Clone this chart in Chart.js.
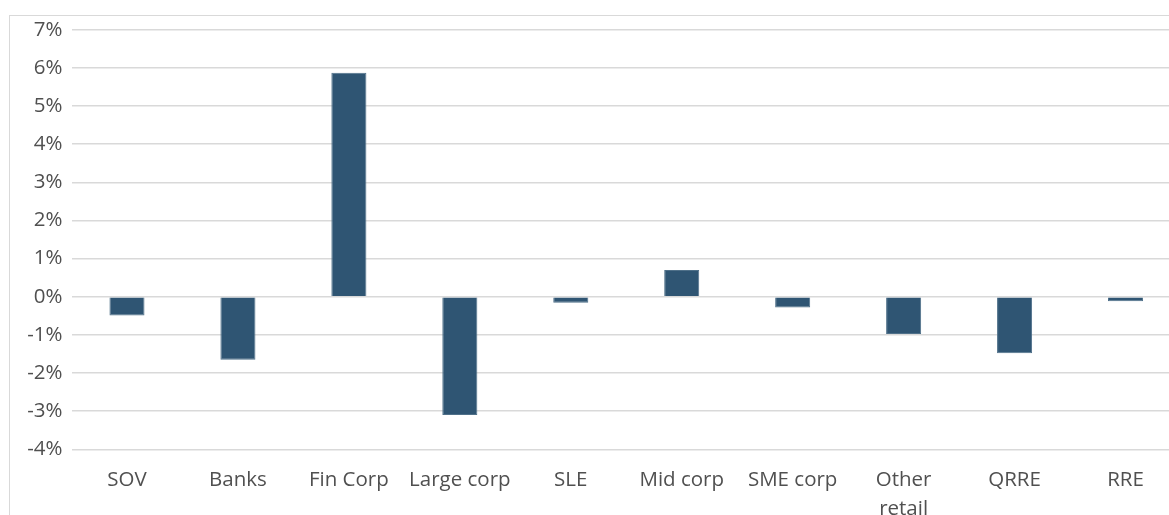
<!DOCTYPE html>
<html>
<head>
<meta charset="utf-8">
<script src="https://cdn.jsdelivr.net/npm/chart.js@4/dist/chart.umd.min.js"></script>
<style>
  html, body { margin: 0; padding: 0; background: #fff; overflow: hidden; }
  #frame {
    position: absolute; left: 9px; top: 15px; width: 1300px; height: 600px;
    border-left: 1px solid #d9d9d9; border-top: 1px solid #d9d9d9;
  }
  #wrap { position: absolute; left: 0; top: 0; width: 1181px; height: 530px; }
</style>
</head>
<body>
<div id="frame"></div>
<div id="wrap"><canvas id="chart-portfolio-change"></canvas></div>
<script>
const categories = ['SOV', 'Banks', 'Fin Corp', 'Large corp', 'SLE', 'Mid corp', 'SME corp', ['Other', 'retail'], 'QRRE', 'RRE'];
const changePct = [-0.49, -1.65, 5.87, -3.10, -0.16, 0.70, -0.28, -0.98, -1.48, -0.12];
const yMin = -4;
const yMax = 7;

const barColor = '#2f5573';
const gridColor = '#d9d9d9';
const labelColor = '#505050';
const labelFont = { family: 'Open Sans', size: 20.5, lineHeight: 1.4 };

const ctx = document.getElementById('chart-portfolio-change').getContext('2d');
const chart = new Chart(ctx, {
  type: 'bar',
  data: {
    labels: categories,
    datasets: [{
      data: changePct,
      backgroundColor: barColor,
      borderColor: '#4f7089',
      borderWidth: 1,
      categoryPercentage: 1,
      barPercentage: 0.316
    }]
  },
  options: {
    responsive: true,
    maintainAspectRatio: false,
    animation: false,
    layout: { padding: { top: 29.7, left: 0, right: 0, bottom: 0 } },
    plugins: { legend: { display: false }, tooltip: { enabled: false } },
    scales: {
      x: {
        grid: { display: false },
        border: { display: false },
        ticks: { color: labelColor, font: labelFont, padding: 9, maxRotation: 0, autoSkip: false },
        afterFit: (scale) => { scale.height = 530 - 449.3; }
      },
      y: {
        min: yMin,
        max: yMax,
        grid: { color: gridColor, lineWidth: 1.5, drawTicks: false },
        border: { display: false },
        ticks: {
          stepSize: 1,
          color: labelColor,
          font: labelFont,
          padding: 9,
          callback: (v) => v + '%'
        },
        afterFit: (scale) => { scale.width = 71.5; }
      }
    }
  }
});
</script>
</body>
</html>
